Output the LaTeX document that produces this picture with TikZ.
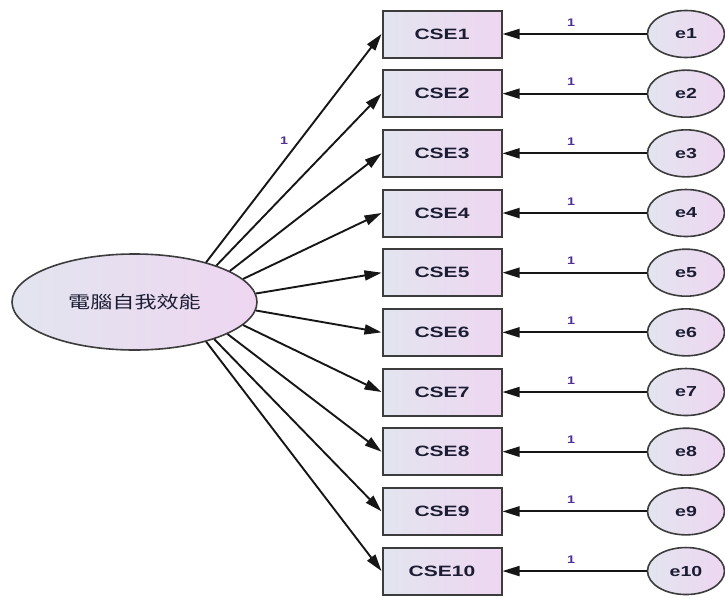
\documentclass[tikz,border=0pt]{standalone}
\usepackage{graphicx}
\usepackage{fontspec}
\setmainfont{Liberation Sans}
\newfontfamily\cjkfont{Noto Sans CJK TC}
\usetikzlibrary{arrows.meta,shapes.geometric}

\definecolor{fillA}{RGB}{226,229,239}
\definecolor{fillB}{RGB}{238,214,241}
\definecolor{edgegray}{RGB}{60,60,60}
\definecolor{linedark}{RGB}{22,22,22}
\definecolor{txtnavy}{RGB}{28,28,50}
\definecolor{wtpurple}{RGB}{80,50,150}

\begin{document}
\begin{tikzpicture}[x=1pt,y=-1pt,
  obsbox/.style={rectangle, draw=edgegray, line width=2pt, left color=fillA, right color=fillB,
    minimum width=119pt, minimum height=47pt, inner sep=0pt, text=txtnavy,
    font=\fontsize{15}{15}\selectfont\bfseries},
  errnode/.style={ellipse, draw=edgegray, line width=1.6pt, left color=fillA, right color=fillB,
    minimum width=77pt, minimum height=47pt, inner sep=0pt, text=txtnavy,
    font=\fontsize{14.5}{14.5}\selectfont\bfseries},
  latnode/.style={ellipse, draw=edgegray, line width=1.6pt, left color=fillA, right color=fillB,
    minimum width=245pt, minimum height=96pt, inner sep=0pt, text=txtnavy},
  path arrow/.style={draw=linedark, line width=1.9pt,
    -{Triangle[length=17pt,width=10pt]}},
  wlabel/.style={text=wtpurple, inner sep=0pt, font=\fontsize{11}{11}\selectfont\bfseries}
]
\useasboundingbox (0,0) rectangle (725,597);

% latent factor
\node[latnode] (lat) at (134.5,302)
  {\scalebox{1.3}[1]{\cjkfont\fontsize{17}{17}\selectfont 電腦自我效能}};

% observed indicators and their error terms
\foreach \i in {1,...,10} {
  \pgfmathsetmacro\yy{34+59.67*(\i-1)}
  \node[obsbox] (c\i) at (442,\yy) {\scalebox{1.4}[1]{CSE\i}};
  \node[errnode] (e\i) at (686,\yy) {\scalebox{1.35}[1]{e\i}};
  \draw[path arrow] (e\i) -- (c\i);
  \node[wlabel] (w\i) at (571,\yy-11.5) {\scalebox{1.3}[1]{1}};
}

% factor loadings
\foreach \i/\a in {1/29,2/24.5,3/18.5,4/12.5,5/4.5,6/-4.5,7/-12.5,8/-19,9/-25,10/-29} {
  \draw[path arrow] (lat.\a) -- (c\i.west);
}
\node[wlabel] (w0) at (284,141) {\scalebox{1.3}[1]{1}};

\end{tikzpicture}
\end{document}
